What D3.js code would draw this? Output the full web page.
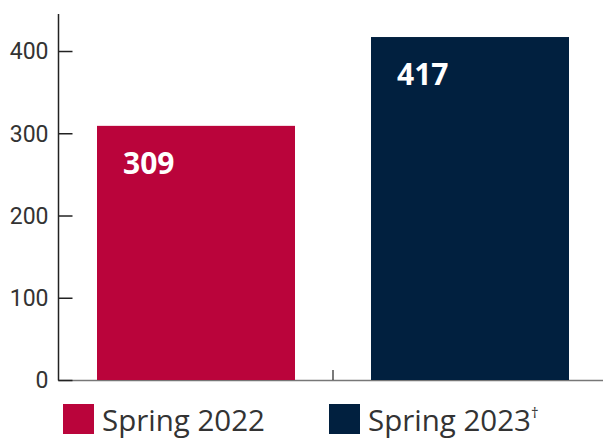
<!DOCTYPE html>
<html><head><meta charset="utf-8">
<script src="https://cdn.jsdelivr.net/npm/d3@7"></script>
<style>html,body{margin:0;padding:0;background:#fff;}</style>
</head><body>
<svg id="c" width="603" height="439"></svg>
<script>
const categories = ["Spring 2022", "Spring 2023"];
const values = [309, 417];
const colors = ["#ba043b", "#01203f"];
const legendLabels = ["Spring 2022", "Spring 2023"];
const legendSup = ["", "†"];
const yTicks = [0, 100, 200, 300, 400];

const svg = d3.select("#c");
const y = d3.scaleLinear().domain([0, 445]).range([380, 14]);
const x = d3.scaleBand().domain(categories).range([59, 607]).paddingInner(0.2774).paddingOuter(0.1387);

// x axis line
svg.append("line").attr("x1", 58).attr("x2", 603).attr("y1", 380.5).attr("y2", 380.5)
  .attr("stroke", "#777").attr("stroke-width", 1.5);

// bars
svg.selectAll("rect.bar").data(values).join("rect").attr("class", "bar")
  .attr("x", (d, i) => x(categories[i]))
  .attr("width", x.bandwidth())
  .attr("y", d => y(d))
  .attr("height", d => y(0) - y(d))
  .attr("fill", (d, i) => colors[i]);

// value labels
svg.selectAll("text.val").data(values).join("text").attr("class", "val")
  .attr("x", (d, i) => x(categories[i]) + 26)
  .attr("y", d => y(d) + 48)
  .attr("fill", "#fff")
  .attr("font-family", "'Open Sans', sans-serif")
  .attr("font-weight", 700)
  .attr("font-size", 30)
  .text(d => d);

// y axis
const yAxis = d3.axisLeft(y).tickValues(yTicks).tickSize(-14).tickPadding(24);
const gy = svg.append("g").attr("transform", "translate(58.5,0)").call(yAxis);
gy.select(".domain").attr("stroke", "#222").attr("stroke-width", 1.5).attr("d", "M0,14V380.5");
gy.selectAll(".tick line").attr("stroke", "#222").attr("stroke-width", 1.5);
gy.selectAll(".tick text").attr("font-family", "Roboto, sans-serif").attr("font-size", 23)
  .attr("fill", "#333").attr("x", -10).attr("dy", "0.34em");

// x tick between bands
const bound = x(categories[1]) - x.step() * x.paddingInner() / 2;
svg.append("line").attr("x1", bound).attr("x2", bound).attr("y1", 370).attr("y2", 380)
  .attr("stroke", "#222").attr("stroke-width", 1.2);

// legend
const legX = [63, 329];
legendLabels.forEach((lab, i) => {
  const g = svg.append("g").attr("transform", `translate(${legX[i]},404)`);
  g.append("rect").attr("width", 31).attr("height", 30).attr("fill", colors[i]);
  const t = g.append("text").attr("x", 39).attr("y", 26.5)
    .attr("font-family", "'Open Sans', sans-serif").attr("font-size", 29.5).attr("fill", "#333")
    .text(lab);
  if (legendSup[i]) {
    t.append("tspan").attr("font-size", 15).attr("dy", -13).text(legendSup[i]);
  }
});
</script>
</body></html>
